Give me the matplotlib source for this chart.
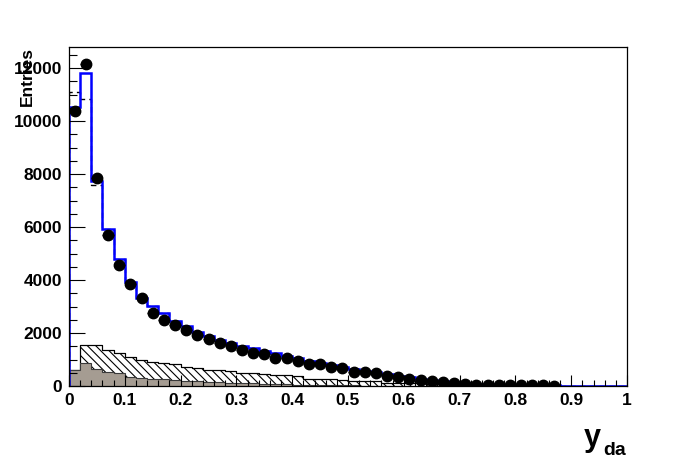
import numpy as np
import matplotlib.pyplot as plt

plt.rcParams['font.family'] = ['Liberation Sans', 'DejaVu Sans']
plt.rcParams['font.weight'] = 'bold'
plt.rcParams['hatch.linewidth'] = 0.8

# 50 bins of width 0.02 from 0 to 1
edges = np.linspace(0, 1, 51)

# data points (bin centres 0.01 .. 0.87)
data_y = [10400, 12150, 7850, 5700, 4550, 3850, 3310, 2750, 2490, 2290,
          2110, 1930, 1780, 1610, 1510, 1360, 1260, 1210, 1070, 1040,
          930, 840, 830, 700, 670, 530, 520, 480, 380, 330,
          260, 225, 195, 150, 125, 60, 55, 50, 45, 40,
          35, 30, 25, 10]

# blue MC histogram
mc_blue = [10540, 11820, 7750, 5925, 4790, 3935, 3310, 3020, 2745, 2465,
           2265, 2050, 1890, 1740, 1610, 1510, 1420, 1335, 1235, 1130,
           1045, 955, 880, 800, 730, 650, 580, 520, 450, 390,
           330, 280, 230, 190, 150, 110, 85, 70, 55, 45,
           35, 30, 25, 20, 0, 0, 0, 0, 0, 0]

# dashed MC histogram (mostly hidden under the blue one)
mc_dash = [11100, 10850, 7580] + mc_blue[3:]

# hatched background
bg_hatch = [600, 1550, 1550, 1360, 1230, 1100, 980, 920, 860, 820,
            700, 670, 620, 600, 580, 500, 480, 460, 420, 400,
            380, 280, 260, 250, 230, 200, 190, 180, 130, 120,
            110, 100, 80, 60, 40, 20, 0, 0, 0, 0,
            0, 0, 0, 0, 0, 0, 0, 0, 0, 0]

# gray background
bg_gray = [620, 880, 630, 540, 480, 350, 310, 270, 250, 220,
           200, 180, 160, 140, 125, 110, 95, 80, 70, 60,
           50, 40, 35, 30, 25, 20, 15, 10, 5, 0,
           0, 0, 0, 0, 0, 0, 0, 0, 0, 0,
           0, 0, 0, 0, 0, 0, 0, 0, 0, 0]

fig = plt.figure(figsize=(6.96, 4.72), dpi=100)
ax = fig.add_axes([69/696, 1-386/472, 558/696, 339/472])

ax.stairs(bg_hatch, edges, fill=True, facecolor='white', edgecolor='black',
          hatch='\\\\\\\\', linewidth=0.8)
ax.stairs(bg_hatch, edges, color='black', linewidth=0.8)
ax.stairs(bg_gray, edges, fill=True, facecolor='#a59c92', edgecolor='none')
ax.stairs(bg_gray, edges, color='#3a3a3a', linewidth=0.8)
ax.stairs(mc_dash, edges, color='black', linewidth=1, linestyle=(0, (4, 3)))
ax.stairs(mc_blue, edges, color='#0000ff', linewidth=1.8)

xc = (edges[:-1] + edges[1:]) / 2
xd = xc[:len(data_y)]
yd = np.array(data_y)
ax.errorbar(xd, yd, xerr=0.01, yerr=np.sqrt(yd), fmt='o', color='black',
            markersize=7.5, elinewidth=1, capsize=0)

ax.set_xlim(0, 1)
ax.set_ylim(0, 12800)
ax.set_xticks(np.arange(0, 1.01, 0.1))
ax.set_xticklabels(['0', '0.1', '0.2', '0.3', '0.4', '0.5', '0.6', '0.7', '0.8', '0.9', '1'])
ax.set_xticks(np.arange(0, 1.001, 0.02), minor=True)
ax.set_yticks(np.arange(0, 12001, 2000))
ax.set_yticks(np.arange(0, 12801, 500), minor=True)

ax.tick_params(axis='both', which='both', direction='in', top=False, right=False,
               labelsize=12.5, width=0.8)
ax.tick_params(axis='y', which='major', length=11.5, pad=5)
ax.tick_params(axis='y', which='minor', length=5.8)
ax.tick_params(axis='x', which='major', length=8, pad=5)
ax.tick_params(axis='x', which='minor', length=4)
for lab in ax.get_xticklabels() + ax.get_yticklabels():
    lab.set_fontweight('bold')
for s in ax.spines.values():
    s.set_linewidth(0.9)

fig.text(27/696, 1-47/472, 'Entries', rotation=90, ha='center', va='top',
         fontsize=12.5, fontweight='bold')
fig.text(584/696, 1-446/472, 'y', ha='left', va='baseline',
         fontsize=22, fontweight='bold')
fig.text(603/696, 1-455/472, 'da', ha='left', va='baseline',
         fontsize=14, fontweight='bold')

fig.savefig('out.png', dpi=100)
